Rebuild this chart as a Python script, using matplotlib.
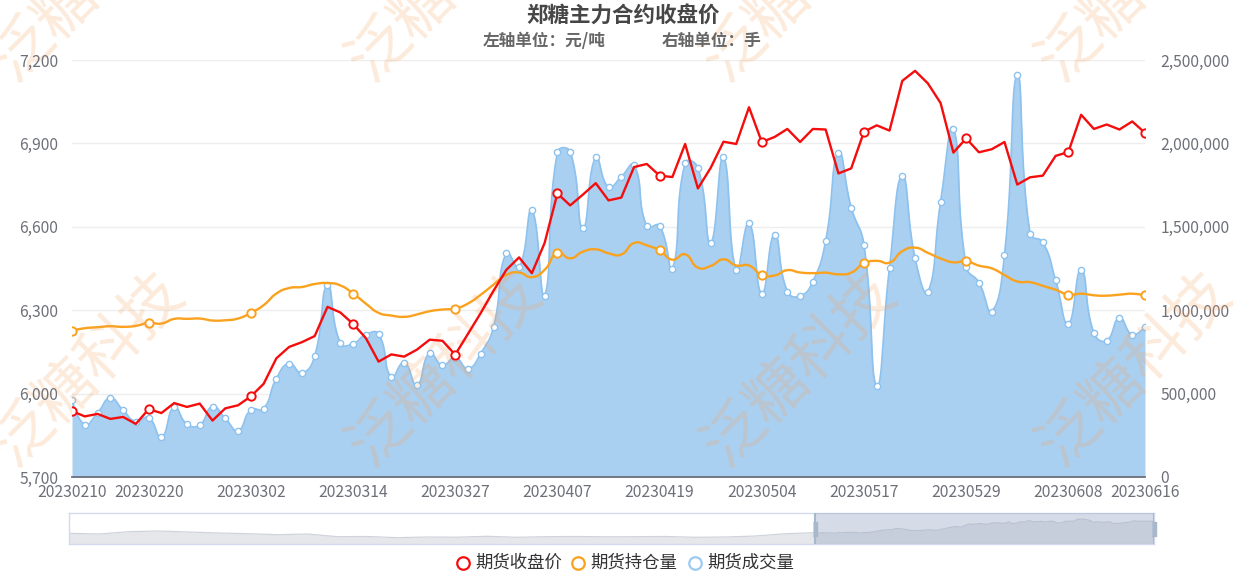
import numpy as np
import matplotlib
matplotlib.use("Agg")
import matplotlib.pyplot as plt
from matplotlib.patches import Rectangle
from matplotlib.ticker import FuncFormatter

plt.rcParams['font.family'] = ['Noto Sans CJK SC', 'DejaVu Sans']

# trading days shown in the chart window
dates = [
    "20230210", "20230213", "20230214", "20230215", "20230216", "20230217",
    "20230220", "20230221", "20230222", "20230223", "20230224", "20230227", "20230228",
    "20230301", "20230302", "20230303", "20230306", "20230307", "20230308", "20230309",
    "20230310", "20230313", "20230314", "20230315", "20230316", "20230320", "20230321",
    "20230322", "20230323", "20230324", "20230327", "20230328", "20230329", "20230330",
    "20230331", "20230403", "20230404", "20230406", "20230407", "20230410", "20230411",
    "20230412", "20230413", "20230414", "20230417", "20230418", "20230419", "20230420",
    "20230421", "20230424", "20230425", "20230426", "20230427", "20230428", "20230504",
    "20230505", "20230508", "20230509", "20230511", "20230512", "20230515", "20230516",
    "20230517", "20230518", "20230519", "20230522", "20230523", "20230524", "20230525",
    "20230526", "20230529", "20230530", "20230531", "20230601", "20230602", "20230605",
    "20230606", "20230607", "20230608", "20230609", "20230612", "20230613", "20230614",
    "20230615", "20230616",
]

# 期货收盘价 (元/吨)
close = [
    5937, 5918, 5927, 5909, 5916, 5891, 5944, 5930, 5966, 5952,
    5964, 5903, 5947, 5958, 5990, 6035, 6127, 6168, 6185, 6207,
    6312, 6292, 6251, 6200, 6115, 6141, 6133, 6158, 6194, 6190,
    6140, 6215, 6290, 6370, 6445, 6490, 6433, 6542, 6720, 6677,
    6716, 6757, 6695, 6705, 6815, 6826, 6784, 6779, 6898, 6738,
    6812, 6906, 6898, 7030, 6905, 6923, 6952, 6905, 6952, 6950,
    6792, 6810, 6942, 6965, 6946, 7125, 7161, 7116, 7045, 6867,
    6918, 6868, 6879, 6905, 6752, 6778, 6784, 6855, 6869, 7003,
    6952, 6968, 6950, 6979, 6938,
]

# 期货持仓量 (手)
open_interest = [
    878000, 892000, 898000, 904000, 900000, 906000, 924000, 920000, 948000, 948000,
    950000, 938000, 940000, 950000, 984000, 1030000, 1100000, 1133000, 1139000, 1157000,
    1163000, 1149000, 1100000, 1040000, 984000, 968000, 960000, 974000, 994000, 1004000,
    1010000, 1040000, 1093000, 1153000, 1212000, 1226000, 1198000, 1242000, 1345000, 1311000,
    1351000, 1365000, 1341000, 1334000, 1403000, 1389000, 1358000, 1303000, 1335000, 1255000,
    1265000, 1305000, 1268000, 1268000, 1212000, 1208000, 1240000, 1226000, 1222000, 1225000,
    1215000, 1225000, 1281000, 1296000, 1285000, 1354000, 1375000, 1344000, 1310000, 1287000,
    1294000, 1267000, 1251000, 1211000, 1172000, 1168000, 1146000, 1123000, 1093000, 1099000,
    1089000, 1087000, 1093000, 1099000, 1089000,
]

# 期货成交量 (手)
volume = [
    462000, 314000, 384000, 473000, 400000, 332000, 356000, 238000, 418000, 316000,
    312000, 422000, 351000, 278000, 402000, 410000, 590000, 680000, 623000, 725000,
    1149000, 803000, 798000, 854000, 857000, 599000, 686000, 551000, 743000, 670000,
    715000, 650000, 740000, 900000, 1345000, 1256000, 1600000, 1088000, 1948000, 1950000,
    1490000, 1917000, 1737000, 1800000, 1870000, 1502000, 1506000, 1249000, 1883000, 1854000,
    1404000, 1916000, 1239000, 1522000, 1098000, 1452000, 1112000, 1085000, 1172000, 1415000,
    1945000, 1615000, 1391000, 546000, 1253000, 1806000, 1312000, 1109000, 1648000, 2089000,
    1261000, 1166000, 992000, 1328000, 2409000, 1457000, 1407000, 1180000, 917000, 1243000,
    862000, 818000, 953000, 854000, 901000,
]

# earlier closes, only visible as the data shadow of the zoom slider
history_close = [
    5883, 5820, 6026, 6089, 5999, 5910, 5847, 5758, 5820, 5579,
    5597, 5490, 5552, 5535, 5615, 5526, 5579, 5597, 5570, 5579,
    5597, 5526, 5552, 5642, 5847,
]
HIST_DAYS = 185

# x-axis labels echarts kept
label_idx = [0, 6, 14, 22, 30, 38, 46, 54, 62, 70, 78, 84]

RED = '#f50d0d'
ORANGE = '#faa21e'
BLUE_LINE = '#8ec2ee'
BLUE_FILL = '#aad0f1'
AXIS_TXT = '#6e7079'


def echarts_smooth(xs, ys, sx, sy, smooth=0.5, n=14):
    """Bezier smoothing the way echarts draws `smooth: true` lines (in pixel space)."""
    px = np.asarray(xs, float) * sx
    py = np.asarray(ys, float) * sy
    m = len(px)
    cin = np.column_stack([px, py])
    cout = cin.copy()
    for i in range(1, m - 1):
        vx = px[i + 1] - px[i - 1]
        vy = py[i + 1] - py[i - 1]
        l0 = np.hypot(px[i] - px[i - 1], py[i] - py[i - 1])
        l1 = np.hypot(px[i + 1] - px[i], py[i + 1] - py[i])
        r = l1 / (l0 + l1)
        cin[i] = (px[i] - vx * smooth * (1 - r), py[i] - vy * smooth * (1 - r))
        cout[i] = (px[i] + vx * smooth * r, py[i] + vy * smooth * r)
    t = np.linspace(0, 1, n)[1:, None]
    out = [np.array([[px[0], py[0]]])]
    for i in range(m - 1):
        p0 = np.array([px[i], py[i]])
        p3 = np.array([px[i + 1], py[i + 1]])
        b = ((1 - t) ** 3) * p0 + 3 * (1 - t) ** 2 * t * cout[i] \
            + 3 * (1 - t) * t ** 2 * cin[i + 1] + t ** 3 * p3
        out.append(b)
    out = np.vstack(out)
    return out[:, 0] / sx, out[:, 1] / sy


W, H = 1245, 578
fig = plt.figure(figsize=(W / 100, H / 100), dpi=100)
fig.patch.set_facecolor('white')

left, right, top, bottom = 72, 1145, 60, 477
ax = fig.add_axes([left / W, 1 - bottom / H, (right - left) / W, (bottom - top) / H])
ax2 = ax.twinx()
ax.set_zorder(ax2.get_zorder() + 1)
ax.patch.set_visible(False)

x = np.arange(len(dates))
n = len(dates)

# pixel scales used for the smoothing
sx = (right - left) / (n - 1)
sy_r = (bottom - top) / 2500000

# volume area (right axis)
vx, vy = echarts_smooth(x, volume, sx, sy_r)
ax2.fill_between(vx, vy, 0, color=BLUE_FILL, lw=0, zorder=2)
ax2.plot(vx, vy, color=BLUE_LINE, lw=1.3, zorder=3)
ax2.plot(x, volume, ls='none', marker='o', ms=4.5, mfc='white', mec=BLUE_LINE, mew=1.0, zorder=4)

# open interest (right axis)
ox, oy = echarts_smooth(x, open_interest, sx, sy_r)
ax2.plot(ox, oy, color=ORANGE, lw=1.7, zorder=5)
ax2.plot(x[label_idx], np.array(open_interest)[label_idx], ls='none', marker='o', ms=6,
         mfc='white', mec=ORANGE, mew=1.4, zorder=6)

# close price (left axis)
ax.plot(x, close, color=RED, lw=1.7, zorder=5)
ax.plot(x[label_idx], np.array(close)[label_idx], ls='none', marker='o', ms=6,
        mfc='white', mec=RED, mew=1.4, zorder=6)

ax.set_xlim(0, n - 1)
ax.set_ylim(5700, 7200)
ax.set_yticks(np.arange(5700, 7201, 300))
ax2.set_ylim(0, 2500000)
ax2.set_yticks(np.arange(0, 2500001, 500000))
ax2.grid(axis='y', color='#eeeeee', lw=1)
ax2.set_axisbelow(True)

fmt = FuncFormatter(lambda v, p: f'{int(v):,}')
ax.yaxis.set_major_formatter(fmt)
ax2.yaxis.set_major_formatter(fmt)
ax.set_xticks(label_idx)
ax.set_xticklabels([dates[i] for i in label_idx])

ax.tick_params(axis='y', length=0, pad=10, labelsize=11.3, labelcolor=AXIS_TXT)
ax2.tick_params(axis='y', length=0, pad=11, labelsize=11.3, labelcolor=AXIS_TXT)
ax.tick_params(axis='x', length=0, pad=5, labelsize=11.3, labelcolor=AXIS_TXT)
for a in (ax, ax2):
    for s in a.spines.values():
        s.set_visible(False)
ax.spines['bottom'].set_visible(True)
ax.spines['bottom'].set_color(AXIS_TXT)
ax.spines['bottom'].set_linewidth(1.3)

# title
fig.text(623 / W, 1 - 16 / H, '郑糖主力合约收盘价', ha='center', va='center',
         fontsize=15.5, fontweight='bold', color='#464646')
fig.text(544 / W, 1 - 41 / H, '左轴单位：元/吨', ha='center', va='center',
         fontsize=12, fontweight='bold', color='#666666')
fig.text(711 / W, 1 - 41 / H, '右轴单位：手', ha='center', va='center',
         fontsize=12, fontweight='bold', color='#666666')

# zoom slider with data shadow
sl_l, sl_r, sl_t, sl_b = 69, 1154, 513, 544
sl = fig.add_axes([sl_l / W, 1 - sl_b / H, (sl_r - sl_l) / W, (sl_b - sl_t) / H])
hist_x = np.linspace(0, HIST_DAYS, len(history_close), endpoint=False)
shadow_x = np.concatenate([hist_x, HIST_DAYS + x])
shadow_y = np.concatenate([history_close, close])
sl.set_xlim(0, HIST_DAYS + n - 1)
sl.set_ylim(4927, 7697)
sl.fill_between(shadow_x, shadow_y, 4927, color='#e5e7eb', lw=0)
sl.plot(shadow_x, shadow_y, color='#cfd4dc', lw=0.9)
sl.add_patch(Rectangle((HIST_DAYS, 4927), n - 1, 7697 - 4927, facecolor='#9aa9c4',
                       alpha=0.4, lw=0, zorder=3))
for hx in (HIST_DAYS, HIST_DAYS + n - 1):
    sl.axvline(hx, color='#a7b7cc', lw=1.5, zorder=4)
    sl.plot([hx], [0.5], transform=sl.get_xaxis_transform(), ls='none',
            marker=[(-0.27, -1), (0.27, -1), (0.27, 1), (-0.27, 1)], ms=10,
            mfc='#a7b7cc', mec='#a7b7cc', zorder=5, clip_on=False)
sl.set_xticks([])
sl.set_yticks([])
for s in sl.spines.values():
    s.set_color('#d2dbee')
    s.set_linewidth(1)

# overlay in pixel coordinates for legend and watermark
ov = fig.add_axes([0, 0, 1, 1])
ov.set_xlim(0, W)
ov.set_ylim(H, 0)
ov.axis('off')

legend_items = [('期货收盘价', RED, 463), ('期货持仓量', ORANGE, 578), ('期货成交量', '#9ccaf0', 695)]
for label, col, lx in legend_items:
    ov.plot([lx], [563], ls='none', marker='o', ms=9, mfc='white', mec=col, mew=1.6)
    ov.text(lx + 12, 563, label, ha='left', va='center', fontsize=12.5, color='#333333')

for cy in (-15, 370):
    for cx in (88, 445, 800, 1135):
        ov.text(cx, cy, '泛糖科技', ha='center', va='center', rotation=45,
                fontsize=44, color='#f5a05a', alpha=0.22, zorder=10)

fig.savefig('out.png', dpi=100, facecolor='white')
